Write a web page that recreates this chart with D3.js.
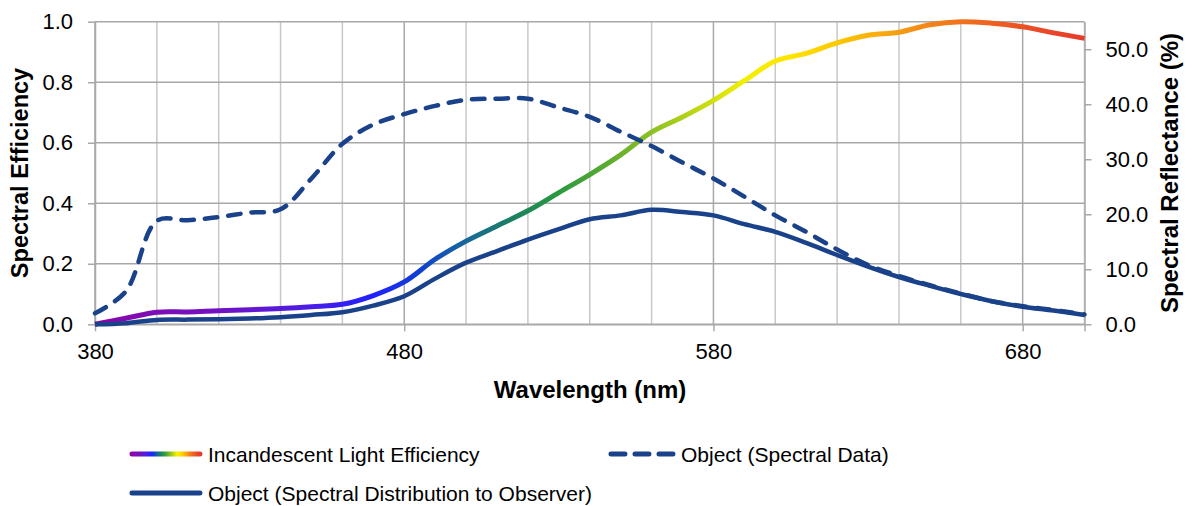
<!DOCTYPE html>
<html>
<head>
<meta charset="utf-8">
<script src="https://cdn.jsdelivr.net/npm/d3@7"></script>
<style>
  html, body { margin: 0; background: #fff; }
  svg { display: block; font-family: Arial, "Liberation Sans", sans-serif; }
</style>
</head>
<body>
<svg id="chart" width="1195" height="506"></svg>
<script>
// longueurs d'onde (nm), un point tous les 10 nm
const WAVELENGTHS = [380, 390, 400, 410, 420, 430, 440, 450, 460, 470, 480, 490, 500, 510, 520, 530, 540,
  550, 560, 570, 580, 590, 600, 610, 620, 630, 640, 650, 660, 670, 680, 690, 700];

// efficacité de la lampe à incandescence (axe gauche, 0-1)
const INCANDESCENT = [0.0, 0.02, 0.04, 0.041, 0.045, 0.048, 0.052, 0.058, 0.066, 0.095, 0.14, 0.215, 0.275,
  0.325, 0.375, 0.435, 0.495, 0.56, 0.635, 0.685, 0.74, 0.805, 0.87, 0.895, 0.93, 0.955, 0.965, 0.99, 1.0,
  0.995, 0.983, 0.963, 0.945];

// réflectance de l'objet (axe droit, %)
const REFLECTANCE = [2.0, 6.0, 18.8, 18.9, 19.5, 20.3, 20.9, 26.5, 32.8, 36.3, 38.2, 39.7, 40.8, 41.0, 41.0,
  39.4, 37.7, 35.0, 32.4, 29.4, 26.5, 23.2, 19.8, 16.8, 13.6, 10.8, 8.8, 7.1, 5.6, 4.2, 3.3, 2.6, 1.8];

// distribution perçue par l'observateur (axe droit, %)
const OBSERVED = [0.0, 0.2, 0.8, 0.85, 0.9, 1.05, 1.3, 1.7, 2.2, 3.4, 5.1, 8.3, 11.2, 13.3, 15.4, 17.3, 19.1,
  19.8, 20.8, 20.4, 19.8, 18.2, 16.8, 14.8, 12.6, 10.5, 8.6, 7.0, 5.5, 4.2, 3.2, 2.5, 1.7];

const X_TICKS = [380, 480, 580, 680, 700];
const LEFT_TICKS = [0, 0.2, 0.4, 0.6, 0.8, 1.0];
const RIGHT_TICKS = [0, 10, 20, 30, 40, 50];

const LEGEND_LABELS = [
  "Incandescent Light Efficiency",
  "Object (Spectral Data)",
  "Object (Spectral Distribution to Observer)",
];

// couleurs du spectre pour le dégradé de la courbe
const SPECTRUM = [
  [380, "#8a06a8"], [420, "#7212c4"], [450, "#4a1ee6"], [470, "#1f22ff"], [485, "#1040d0"],
  [500, "#17689a"], [515, "#1a8060"], [530, "#2a9a40"], [545, "#5aaa32"], [560, "#8cc024"],
  [575, "#c0d814"], [590, "#f2f000"], [605, "#ffe400"], [620, "#fcc800"], [635, "#f8a810"],
  [650, "#f28418"], [665, "#ee6a1e"], [685, "#ea4a26"], [700, "#e63a2c"],
];

const NAVY = "#1a428b";
const GRID = "#a8a8a8";
const GRID_MINOR = "#c8c8c8";

const svg = d3.select("#chart");
const x = d3.scaleLinear().domain([380, 700]).range([95, 1084.5]);
const yL = d3.scaleLinear().domain([0, 1]).range([324.3, 21.7]);
const yR = d3.scaleLinear().domain([0, 55]).range([324.3, 21.7]);

const defs = svg.append("defs");
const grad = defs.append("linearGradient")
  .attr("id", "spectrum")
  .attr("gradientUnits", "userSpaceOnUse")
  .attr("x1", x(380)).attr("x2", x(700)).attr("y1", 0).attr("y2", 0);
grad.selectAll("stop").data(SPECTRUM).join("stop")
  .attr("offset", (d) => (d[0] - 380) / 320)
  .attr("stop-color", (d) => d[1]);

const gradLegend = defs.append("linearGradient").attr("id", "spectrumLegend");
gradLegend.selectAll("stop").data(SPECTRUM).join("stop")
  .attr("offset", (d) => (d[0] - 380) / 320)
  .attr("stop-color", (d) => d[1]);

// grille
const grid = svg.append("g");
grid.selectAll("line.v").data(d3.range(380, 701, 20)).join("line")
  .attr("class", "v")
  .attr("x1", (d) => x(d)).attr("x2", (d) => x(d))
  .attr("y1", yL(0)).attr("y2", yL(1))
  .attr("stroke", (d) => ((d - 380) % 100 === 0 ? GRID : GRID_MINOR))
  .attr("stroke-width", 1.5);
grid.selectAll("line.h").data(LEFT_TICKS).join("line")
  .attr("class", "h")
  .attr("x1", x(380)).attr("x2", x(700))
  .attr("y1", (d) => yL(d)).attr("y2", (d) => yL(d))
  .attr("stroke", GRID)
  .attr("stroke-width", 1.5);

function styleAxis(g) {
  g.selectAll("path.domain").attr("stroke", GRID).attr("stroke-width", 1.5);
  g.selectAll(".tick line").attr("stroke", GRID).attr("stroke-width", 1.5);
  g.selectAll("text").attr("fill", "#000").attr("font-size", 22);
}

svg.append("g")
  .attr("transform", `translate(${x(380)},0)`)
  .call(d3.axisLeft(yL).tickValues(LEFT_TICKS).tickFormat(d3.format(".1f")).tickSize(7).tickSizeOuter(0).tickPadding(15))
  .call(styleAxis);

svg.append("g")
  .attr("transform", `translate(${x(700)},0)`)
  .call(d3.axisRight(yR).tickValues(RIGHT_TICKS).tickFormat(d3.format(".1f")).tickSize(7).tickSizeOuter(0).tickPadding(14))
  .call(styleAxis);

svg.append("g")
  .attr("transform", `translate(0,${yL(0)})`)
  .call(d3.axisBottom(x).tickValues(X_TICKS).tickFormat((d) => (d === 700 ? "" : d)).tickSize(7).tickSizeOuter(0).tickPadding(12))
  .call(styleAxis);

// titres
svg.append("text")
  .attr("x", 590).attr("y", 398)
  .attr("text-anchor", "middle")
  .attr("font-size", 24).attr("font-weight", 700)
  .text("Wavelength (nm)");
svg.append("text")
  .attr("transform", "translate(28,173) rotate(-90)")
  .attr("text-anchor", "middle")
  .attr("font-size", 23.5).attr("font-weight", 700)
  .text("Spectral Efficiency");
svg.append("text")
  .attr("transform", "translate(1178,173) rotate(-90)")
  .attr("text-anchor", "middle")
  .attr("font-size", 24).attr("font-weight", 700)
  .text("Spectral Reflectance (%)");

// courbes
const lineL = d3.line().x((d, i) => x(WAVELENGTHS[i])).y((d) => yL(d)).curve(d3.curveCatmullRom);
const lineR = d3.line().x((d, i) => x(WAVELENGTHS[i])).y((d) => yR(d)).curve(d3.curveCatmullRom);

svg.append("path")
  .attr("d", lineL(INCANDESCENT))
  .attr("fill", "none")
  .attr("stroke", "url(#spectrum)")
  .attr("stroke-width", 5)
  .attr("stroke-linejoin", "round");

svg.append("path")
  .attr("d", lineR(REFLECTANCE))
  .attr("fill", "none")
  .attr("stroke", NAVY)
  .attr("stroke-width", 4.5)
  .attr("stroke-dasharray", "12.5,11")
  .attr("stroke-linecap", "round");

svg.append("path")
  .attr("d", lineR(OBSERVED))
  .attr("fill", "none")
  .attr("stroke", NAVY)
  .attr("stroke-width", 4.5)
  .attr("stroke-linejoin", "round");

// légende
const legend = svg.append("g").attr("font-size", 21);
const items = [
  { label: LEGEND_LABELS[0], x1: 132, x2: 200, y: 454, stroke: "url(#spectrumLegend)", dash: null },
  { label: LEGEND_LABELS[1], x1: 611, x2: 673, y: 454, stroke: NAVY, dash: "14,10" },
  { label: LEGEND_LABELS[2], x1: 132, x2: 200, y: 493, stroke: NAVY, dash: null },
];
items.forEach((it) => {
  legend.append("line")
    .attr("x1", it.x1).attr("x2", it.x2).attr("y1", it.y).attr("y2", it.y + 0.01)
    .attr("stroke", it.stroke)
    .attr("stroke-width", 5)
    .attr("stroke-linecap", "round")
    .attr("stroke-dasharray", it.dash);
  legend.append("text")
    .attr("x", it.x2 + 8).attr("y", it.y + 8)
    .attr("fill", "#000")
    .text(it.label);
});
</script>
</body>
</html>
